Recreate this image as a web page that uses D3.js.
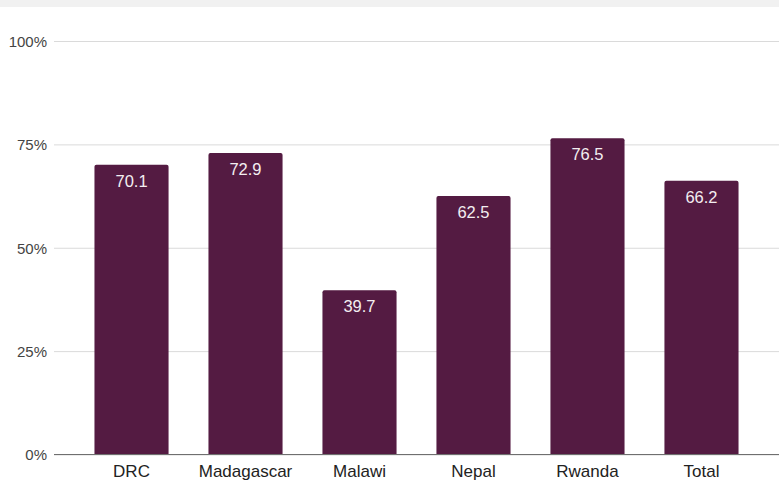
<!DOCTYPE html>
<html>
<head>
<meta charset="utf-8">
<script src="https://cdn.jsdelivr.net/npm/d3@7"></script>
<style>
  html, body { margin: 0; padding: 0; background: #fff; }
  svg { display: block; font-family: "Liberation Sans", Arial, sans-serif; }
</style>
</head>
<body>
<svg id="chart" width="779" height="481"></svg>
<script>
// Share of respondents by country (percent)
const categories = ["DRC", "Madagascar", "Malawi", "Nepal", "Rwanda", "Total"];
const values = [70.1, 72.9, 39.7, 62.5, 76.5, 66.2];
const tickValues = [0, 25, 50, 75, 100];

const W = 779, H = 481;
const svg = d3.select("#chart");

// Light strip along the top edge
svg.append("rect").attr("x", 0).attr("y", 0).attr("width", W).attr("height", 7).attr("fill", "#f1f1f1");

const x = d3.scaleBand()
  .domain(categories)
  .range([54, 779])
  .paddingInner(0.35)
  .paddingOuter(0.355);

const y = d3.scaleLinear().domain([0, 100]).range([454.5, 41]);

// Horizontal gridlines
const yAxis = d3.axisLeft(y)
  .tickValues(tickValues)
  .tickSize(-(779 - 54))
  .tickFormat(d => d + "%");

const gy = svg.append("g").attr("transform", "translate(54,0)").call(yAxis);
gy.select(".domain").remove();
gy.selectAll(".tick line").attr("stroke", "#dadada").attr("stroke-width", 1);
gy.selectAll(".tick text")
  .attr("x", -7)
  .attr("dy", "0.36em")
  .attr("fill", "#444")
  .style("font-size", "15px")
  .style("font-family", "'Liberation Sans', Arial, sans-serif");

// Bars with slightly rounded top corners
const r = 2;
function barPath(d, i) {
  const x0 = x(categories[i]), w = x.bandwidth();
  const y0 = y(d), y1 = y(0);
  return `M${x0},${y1}V${y0 + r}Q${x0},${y0} ${x0 + r},${y0}H${x0 + w - r}Q${x0 + w},${y0} ${x0 + w},${y0 + r}V${y1}Z`;
}
svg.append("g").selectAll("path")
  .data(values)
  .join("path")
  .attr("d", barPath)
  .attr("fill", "#541b42");

// Baseline
svg.append("line")
  .attr("x1", 54).attr("x2", 779)
  .attr("y1", y(0)).attr("y2", y(0))
  .attr("stroke", "#6f6f6f").attr("stroke-width", 1.2);

// Value labels inside the bars
svg.append("g").selectAll("text")
  .data(values)
  .join("text")
  .attr("x", (d, i) => x(categories[i]) + x.bandwidth() / 2)
  .attr("y", d => y(d) + 22)
  .attr("text-anchor", "middle")
  .attr("fill", "#f3eef1")
  .style("font-size", "16.5px")
  .text(d => d.toFixed(1));

// Category labels
const xAxis = d3.axisBottom(x).tickSize(0);
const gx = svg.append("g").attr("transform", `translate(0,${y(0)})`).call(xAxis);
gx.select(".domain").remove();
gx.selectAll(".tick text")
  .attr("y", 22)
  .attr("dy", "0")
  .attr("fill", "#222")
  .style("font-size", "17px")
  .style("font-family", "'Liberation Sans', Arial, sans-serif");
</script>
</body>
</html>
